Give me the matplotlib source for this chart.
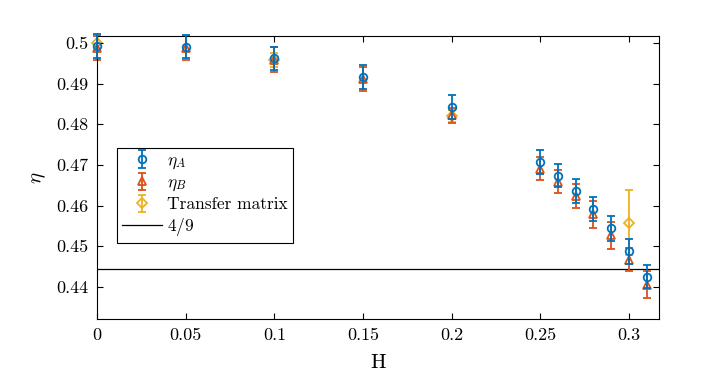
import numpy as np
import matplotlib
matplotlib.use("Agg")
import matplotlib.pyplot as plt
from matplotlib.ticker import FuncFormatter

# data
H_vals   = [0.0, 0.05, 0.10, 0.15, 0.20, 0.25, 0.26, 0.27, 0.28, 0.29, 0.30, 0.31]
eta_A    = [0.4993, 0.4991, 0.4962, 0.4916, 0.4842, 0.4707, 0.4673, 0.4636, 0.4591, 0.4544, 0.4487, 0.4425]
eta_A_err = [0.0030, 0.0028, 0.0028, 0.0030, 0.0030, 0.0029, 0.0028, 0.0029, 0.0030, 0.0030, 0.0030, 0.0029]
eta_B    = [0.4988, 0.4988, 0.4959, 0.4911, 0.4822, 0.4691, 0.4659, 0.4623, 0.4578, 0.4527, 0.4467, 0.4405]
eta_B_err = [0.0030, 0.0030, 0.0030, 0.0030, 0.0018, 0.0028, 0.0029, 0.0030, 0.0033, 0.0033, 0.0029, 0.0033]
H_tm     = [0.0, 0.10, 0.20, 0.30]
eta_tm   = [0.4999, 0.4958, 0.4821, 0.4558]
eta_tm_err = [0.0020, 0.0018, 0.0015, 0.0080]
ref_val  = 4.0 / 9.0

x_ticks = [0, 0.05, 0.1, 0.15, 0.2, 0.25, 0.3]
y_ticks = [0.44, 0.45, 0.46, 0.47, 0.48, 0.49, 0.5]

plt.rcParams['font.family'] = 'serif'
plt.rcParams['font.serif'] = ['cmr10', 'DejaVu Serif']
plt.rcParams['mathtext.fontset'] = 'cm'
plt.rcParams['axes.unicode_minus'] = False

blue   = '#0072BD'
orange = '#D95319'
yellow = '#EDB120'

fig = plt.figure(figsize=(7.1, 3.84), dpi=100)
ax = fig.add_axes([0.1366, 0.1693, 0.7915, 0.737])

common = dict(linestyle='none', markersize=5.5, markerfacecolor='none',
              markeredgewidth=1.3, elinewidth=1.3, capsize=3, capthick=1.3)
hA = ax.errorbar(H_vals, eta_A, yerr=eta_A_err, marker='o', color=blue,
                 label=r'$\eta_A$', zorder=3, **common)
hB = ax.errorbar(H_vals, eta_B, yerr=eta_B_err, marker='^', color=orange,
                 label=r'$\eta_B$', zorder=2, **common)
hT = ax.errorbar(H_tm, eta_tm, yerr=eta_tm_err, marker='D', color=yellow,
                 label='Transfer matrix', zorder=1,
                 **dict(common, markersize=5))
for h in (hA, hB, hT):
    for art in h.get_children():
        art.set_clip_on(False)
hL = ax.axhline(ref_val, color='black', linewidth=0.9, label=r'$4/9$', zorder=0)

ax.set_xlim(0, 0.317)
ax.set_ylim(0.4321, 0.5017)
ax.set_xticks(x_ticks)
ax.set_yticks(y_ticks)
fmt = FuncFormatter(lambda v, p: '{0:g}'.format(round(v, 4)))
ax.xaxis.set_major_formatter(fmt)
ax.yaxis.set_major_formatter(fmt)
ax.tick_params(axis='both', direction='in', top=True, right=True,
               length=4, width=0.8, labelsize=13, pad=6)
for s in ax.spines.values():
    s.set_linewidth(0.8)

ax.set_xlabel('H', fontsize=15, labelpad=8)
ax.set_ylabel(r'$\eta$', fontsize=15, labelpad=6)

leg = ax.legend([hA, hB, hT, hL], [r'$\eta_A$', r'$\eta_B$', 'Transfer matrix', r'$4/9$'],
                loc='lower left', bbox_to_anchor=(0.0356, 0.2686),
                fontsize=12.5, frameon=True, fancybox=False, framealpha=1,
                edgecolor='black', borderpad=0.3, labelspacing=0.2,
                handlelength=2.3, handletextpad=0.3, borderaxespad=0)
leg.get_frame().set_linewidth(0.8)

plt.savefig('out.png', dpi=100)
plt.close('all')
